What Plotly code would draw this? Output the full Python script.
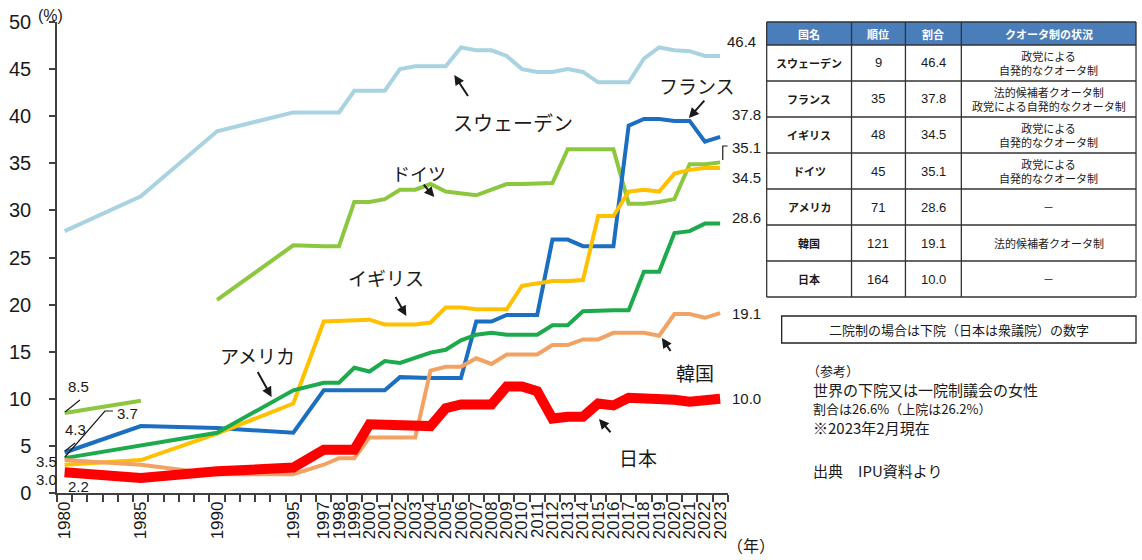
import plotly.graph_objects as go

# ---------------- data ----------------
years = [1980, 1985, 1990, 1995, 1997, 1998, 1999, 2000, 2001, 2002, 2003, 2004, 2005,
         2006, 2007, 2008, 2009, 2010, 2011, 2012, 2013, 2014, 2015, 2016, 2017, 2018,
         2019, 2020, 2021, 2022, 2023]
tick_years = [1980, 1985, 1990, 1995, 1997, 1998, 1999, 2000, 2001, 2002, 2003, 2004,
              2005, 2006, 2007, 2008, 2009, 2010, 2011, 2012, 2013, 2014, 2015, 2016,
              2017, 2018, 2019, 2020, 2021, 2022, 2023]
y_ticks = [0, 5, 10, 15, 20, 25, 30, 35, 40, 45, 50]

sweden = [27.8, 31.5, 38.4, 40.4, 40.4, 40.4, 42.7, 42.7, 42.7, 45.0, 45.3, 45.3, 45.3,
          47.3, 47.0, 47.0, 46.4, 45.0, 44.7, 44.7, 45.0, 44.7, 43.6, 43.6, 43.6, 46.1,
          47.3, 47.0, 46.9, 46.4, 46.4]
germany_west_years = [1980, 1985]
germany_west = [8.5, 9.8]
germany_years = years[2:]
germany = [20.5, 26.3, 26.2, 26.2, 30.9, 30.9, 31.2, 32.2, 32.2, 32.8, 32.0, 31.8, 31.6,
           32.2, 32.8, 32.8, 32.9, 32.9, 36.5, 36.5, 36.5, 36.5, 30.7, 30.7, 30.9, 31.2,
           34.9, 34.9, 35.1]
france = [4.3, 7.1, 6.9, 6.4, 10.9, 10.9, 10.9, 10.9, 10.9, 12.3, 12.2, 12.2, 12.2, 12.2,
          18.2, 18.2, 18.9, 18.9, 18.9, 26.9, 26.9, 26.2, 26.2, 26.2, 39.0, 39.7, 39.7,
          39.5, 39.5, 37.3, 37.8]
uk = [3.0, 3.5, 6.3, 9.5, 18.2, 18.3, 18.4, 18.4, 17.9, 17.9, 17.9, 18.1, 19.7, 19.7,
      19.5, 19.5, 19.5, 22.0, 22.3, 22.5, 22.5, 22.6, 29.4, 29.4, 32.0, 32.2, 32.0, 33.9,
      34.3, 34.5, 34.5]
us = [3.7, 5.0, 6.4, 10.9, 11.7, 11.7, 13.3, 12.9, 14.0, 13.8, 14.3, 14.9, 15.2, 16.2,
      16.8, 17.0, 16.8, 16.8, 16.8, 17.8, 17.8, 19.3, 19.4, 19.4, 19.4, 23.5, 23.5, 27.6,
      27.8, 28.6, 28.6]
korea = [3.5, 3.0, 2.0, 2.0, 3.0, 3.7, 3.7, 5.9, 5.9, 5.9, 5.9, 13.0, 13.4, 13.4, 14.3,
         13.7, 14.7, 14.7, 14.7, 15.7, 15.7, 16.3, 16.3, 17.0, 17.0, 17.0, 16.7, 19.0,
         19.0, 18.6, 19.1]
japan = [2.2, 1.6, 2.3, 2.7, 4.6, 4.6, 4.6, 7.3, 7.3, 7.3, 7.1, 7.1, 9.0, 9.4, 9.4, 9.4,
         11.3, 11.3, 10.8, 7.9, 8.1, 8.1, 9.5, 9.3, 10.1, 10.1, 10.1, 9.9, 9.7, 9.9, 10.0]

table_header = ["国名", "順位", "割合", "クオータ制の状況"]
table_country = ["スウェーデン", "フランス", "イギリス", "ドイツ", "アメリカ", "韓国", "日本"]
table_rank = [9, 35, 48, 45, 71, 121, 164]
table_share = [46.4, 37.8, 34.5, 35.1, 28.6, 19.1, 10.0]
table_quota = ["政党による<br>自発的なクオータ制",
               "法的候補者クオータ制<br>政党による自発的なクオータ制",
               "政党による<br>自発的なクオータ制",
               "政党による<br>自発的なクオータ制",
               "－", "法的候補者クオータ制", "－"]

note_text = "二院制の場合は下院（日本は衆議院）の数字"
ref_lines = ["（参考）", "世界の下院又は一院制議会の女性", "割合は26.6%（上院は26.2%）",
             "※2023年2月現在", "出典　IPU資料より"]

# ---------------- geometry helpers ----------------
W, H = 1142, 560
ML, MR, MT, MB = 57, 0, 22, 67
PW, PH = W - ML - MR, H - MT - MB
PX0, PX1 = 57, 729
XR = [1979.5, 2023.5]
YR = [0, 50]

def dx(px):
    return XR[0] + (px - PX0) / (PX1 - PX0) * (XR[1] - XR[0])

def dy(py):
    return (H - MB - py) / PH * (YR[1] - YR[0])

def fx(px):
    return (px - ML) / PW

def fy(py):
    return (H - MB - py) / PH

NUM = "Liberation Sans, Arial, Noto Sans CJK JP, sans-serif"
JP = "Noto Sans CJK JP, Liberation Sans, sans-serif"
INK = "#1a1a1a"
AX = "#404040"

fig = go.Figure()

series = [
    (years, sweden, "#A9D3E0", 4),
    (germany_west_years, germany_west, "#8DC63F", 4),
    (germany_years, germany, "#8DC63F", 4),
    (years, france, "#1C6FC0", 4),
    (years, uk, "#FFC000", 4),
    (years, us, "#1CAA4C", 4),
    (years, korea, "#F2A263", 4),
    (years, japan, "#FF0000", 10),
]
for xs, ys, col, w in series:
    fig.add_trace(go.Scatter(x=xs, y=ys, mode="lines",
                             line=dict(color=col, width=w),
                             showlegend=False, hoverinfo="skip"))

ann = []
shapes = []

# in-chart country labels
for text, X, Y, size in [("スウェーデン", 514, 122, 20), ("フランス", 698, 85, 19),
                         ("ドイツ", 420, 173, 18), ("イギリス", 387, 277, 19),
                         ("アメリカ", 258, 355, 19), ("韓国", 696, 372, 19),
                         ("日本", 639, 457, 19)]:
    ann.append(dict(x=dx(X), y=dy(Y), xref="x", yref="y", text=text, showarrow=False,
                    xanchor="center", yanchor="middle",
                    font=dict(family=JP, size=size, color=INK)))

# arrows (head, tail)
for hx, hy, tx, ty in [(455, 75, 470, 98), (690, 118, 707, 99), (435, 197, 423, 183),
                       (407, 316, 395, 295), (272, 397, 257, 370), (663, 338, 673, 353),
                       (600, 419, 613, 434)]:
    ann.append(dict(x=dx(hx), y=dy(hy), xref="x", yref="y", text=" ", showarrow=True,
                    ax=tx - hx, ay=ty - hy, arrowhead=2, arrowsize=1, arrowwidth=2,
                    arrowcolor=INK, standoff=0, startstandoff=0, font=dict(size=1)))

# end labels
last = years[-1]
for vals, xs_, ys_ in [(sweden, 5, 14), (france, 10, 22), (germany, 10, 15), (uk, 10, -9),
                       (us, 10, 6), (korea, 10, 0), (japan, 10, 0)]:
    ann.append(dict(x=last, y=vals[-1], xref="x", yref="y", text=f"{vals[-1]:.1f}",
                    showarrow=False, xanchor="left", yanchor="middle",
                    xshift=xs_, yshift=ys_,
                    font=dict(family=NUM, size=15, color=INK)))

# bracket for germany end label
shapes.append(dict(type="path", xref="x", yref="y",
                   path=f"M {dx(724)},{dy(160)} L {dx(724)},{dy(146)} L {dx(729)},{dy(146)}",
                   line=dict(color=INK, width=1.2)))

# 1980 labels
for text, X, Y, anchor in [(f"{germany_west[0]:.1f}", 79, 386, "center"),
                           (f"{france[0]:.1f}", 76, 429, "center"),
                           (f"{us[0]:.1f}", 128, 413, "center"),
                           (f"{korea[0]:.1f}", 59, 461, "right"),
                           (f"{uk[0]:.1f}", 59, 479, "right"),
                           (f"{japan[0]:.1f}", 79, 486, "center")]:
    ann.append(dict(x=dx(X), y=dy(Y), xref="x", yref="y", text=text, showarrow=False,
                    xanchor=anchor, yanchor="middle",
                    font=dict(family=NUM, size=15, color=INK)))
for pts in [[(65, 412), (80, 400)], [(65, 451), (75, 443)],
            [(65, 457), (105, 411), (113, 411)]]:
    p = "M " + " L ".join(f"{dx(a)},{dy(b)}" for a, b in pts)
    shapes.append(dict(type="path", xref="x", yref="y", path=p,
                       line=dict(color=INK, width=1.2)))

# axis unit labels
ann.append(dict(x=fx(36), y=fy(15), xref="paper", yref="paper", text="(%)", showarrow=False,
                xanchor="left", yanchor="middle",
                font=dict(family=NUM, size=16, color=INK)))
ann.append(dict(x=fx(752), y=fy(545), xref="paper", yref="paper", text="（年）",
                showarrow=False, xanchor="center", yanchor="middle",
                font=dict(family=JP, size=16, color=INK)))

# ---------------- table ----------------
col_edges = [768, 853, 907, 963, 1138]
row_edges = [22, 45] + [45 + 36 * (i + 1) for i in range(len(table_country))]
shapes.append(dict(type="rect", xref="paper", yref="paper",
                   x0=fx(col_edges[0]), x1=fx(col_edges[-1]),
                   y0=fy(row_edges[0]), y1=fy(row_edges[1]),
                   fillcolor="#4A7EBB", line=dict(width=0)))
for Y in row_edges:
    shapes.append(dict(type="line", xref="paper", yref="paper",
                       x0=fx(col_edges[0]), x1=fx(col_edges[-1]), y0=fy(Y), y1=fy(Y),
                       line=dict(color="#333333", width=1.3)))
for X in col_edges:
    shapes.append(dict(type="line", xref="paper", yref="paper",
                       x0=fx(X), x1=fx(X), y0=fy(row_edges[0]), y1=fy(row_edges[-1]),
                       line=dict(color="#333333", width=1.3)))

def cell(text, ci, ri, fam, size, color=INK):
    cx = (col_edges[ci] + col_edges[ci + 1]) / 2
    cy = (row_edges[ri] + row_edges[ri + 1]) / 2
    ann.append(dict(x=fx(cx), y=fy(cy), xref="paper", yref="paper", text=text,
                    showarrow=False, xanchor="center", yanchor="middle",
                    font=dict(family=fam, size=size, color=color)))

for ci, h in enumerate(table_header):
    cell(f"<b>{h}</b>", ci, 0, JP, 11, "white")
for ri in range(len(table_country)):
    cell(f"<b>{table_country[ri]}</b>", 0, ri + 1, JP, 11)
    cell(str(table_rank[ri]), 1, ri + 1, NUM, 13)
    cell(f"{table_share[ri]:.1f}", 2, ri + 1, NUM, 13)
    cell(table_quota[ri], 3, ri + 1, JP, 11)

# note box
shapes.append(dict(type="rect", xref="paper", yref="paper", x0=fx(783), x1=fx(1138),
                   y0=fy(316), y1=fy(343), line=dict(color="#222222", width=1.3)))
ann.append(dict(x=fx((783 + 1138) / 2), y=fy(329.5), xref="paper", yref="paper",
                text=note_text, showarrow=False, xanchor="center", yanchor="middle",
                font=dict(family=JP, size=13, color=INK)))

# reference text
for text, Y, size in zip(ref_lines, [370, 389, 408, 427, 470], [13, 15, 13, 15, 15]):
    ann.append(dict(x=fx(806 if text.startswith("（") else 812), y=fy(Y),
                    xref="paper", yref="paper", text=text,
                    showarrow=False, xanchor="left", yanchor="middle",
                    font=dict(family=JP, size=size, color=INK)))

fig.update_layout(
    width=W, height=H,
    margin=dict(l=ML, r=MR, t=MT, b=MB, pad=0),
    paper_bgcolor="white", plot_bgcolor="white",
    showlegend=False,
    annotations=ann, shapes=shapes,
    xaxis=dict(range=XR, domain=[0, (PX1 - PX0) / PW], tickvals=tick_years,
               ticktext=[str(y) for y in tick_years], tickangle=-90, ticks="",
               showline=True, linecolor=AX, linewidth=1.5, showgrid=False, zeroline=False,
               tickfont=dict(family=NUM, size=17, color=INK),
               minor=dict(ticks="outside", tick0=1979.5, dtick=1, ticklen=7,
                          tickcolor=AX, tickwidth=1.5, showgrid=False)),
    yaxis=dict(range=YR, tickvals=y_ticks, ticks="outside", ticklen=6, tickcolor=AX,
               tickwidth=1.5, showline=True, linecolor=AX, linewidth=1.5, showgrid=False,
               zeroline=False, ticklabelstandoff=14,
               tickfont=dict(family=NUM, size=20, color=INK)),
)

fig.write_html("out.html", config={"displayModeBar": False},
               post_script="document.body.style.margin='0';")
